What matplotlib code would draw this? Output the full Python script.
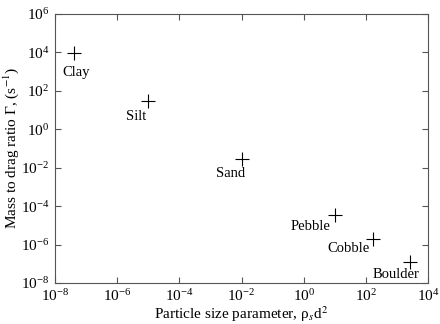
import matplotlib
matplotlib.use("Agg")
import matplotlib.pyplot as plt
from matplotlib.ticker import LogLocator, NullLocator

plt.rcParams["font.family"] = ["Liberation Serif", "DejaVu Serif"]
plt.rcParams["mathtext.fontset"] = "stix"

# values
names = ["Clay", "Silt", "Sand", "Pebble", "Cobble", "Boulder"]
size_param = [4e-8, 1e-5, 1e-2, 10.0, 170.0, 2600.0]
mass_drag = [9e3, 30.0, 0.03, 3.3e-5, 2e-6, 1.2e-7]
# label offsets in pixels from each marker
label_dx = [2, -12, -11, -24, -24, -14]
label_dy = [-19, -16, -15, -11, -10, -12]

fig = plt.figure(figsize=(4.4, 3.24), dpi=100)
ax = fig.add_axes([55 / 440, 1 - 283 / 324, 373 / 440, 269 / 324])

ax.plot(size_param, mass_drag, linestyle="none", marker="+", color="black",
        markersize=10, markeredgewidth=0.8)

for name, x, y, dx, dy in zip(names, size_param, mass_drag, label_dx, label_dy):
    ax.annotate(name, (x, y), xytext=(dx, dy), textcoords="offset pixels",
                ha="center", va="center", fontsize=10.5)

ax.set_xscale("log")
ax.set_yscale("log")
ax.set_xlim(1e-8, 1e4)
ax.set_ylim(1e-8, 1e6)
ax.xaxis.set_major_locator(LogLocator(base=100))
ax.yaxis.set_major_locator(LogLocator(base=100))
ax.xaxis.set_minor_locator(NullLocator())
ax.yaxis.set_minor_locator(NullLocator())

ax.tick_params(direction="in", top=True, right=True, length=4, width=0.8,
               labelsize=11, color="#555555", pad=4)
for spine in ax.spines.values():
    spine.set_color("#555555")
    spine.set_linewidth(0.8)

ax.set_xlabel("Particle size parameter, ρ$_s$d$^2$", fontsize=11, labelpad=0)
ax.set_ylabel("Mass to drag ratio Γ, (s$^{-1}$)", fontsize=11, labelpad=0)

fig.savefig("out.png", dpi=100)
